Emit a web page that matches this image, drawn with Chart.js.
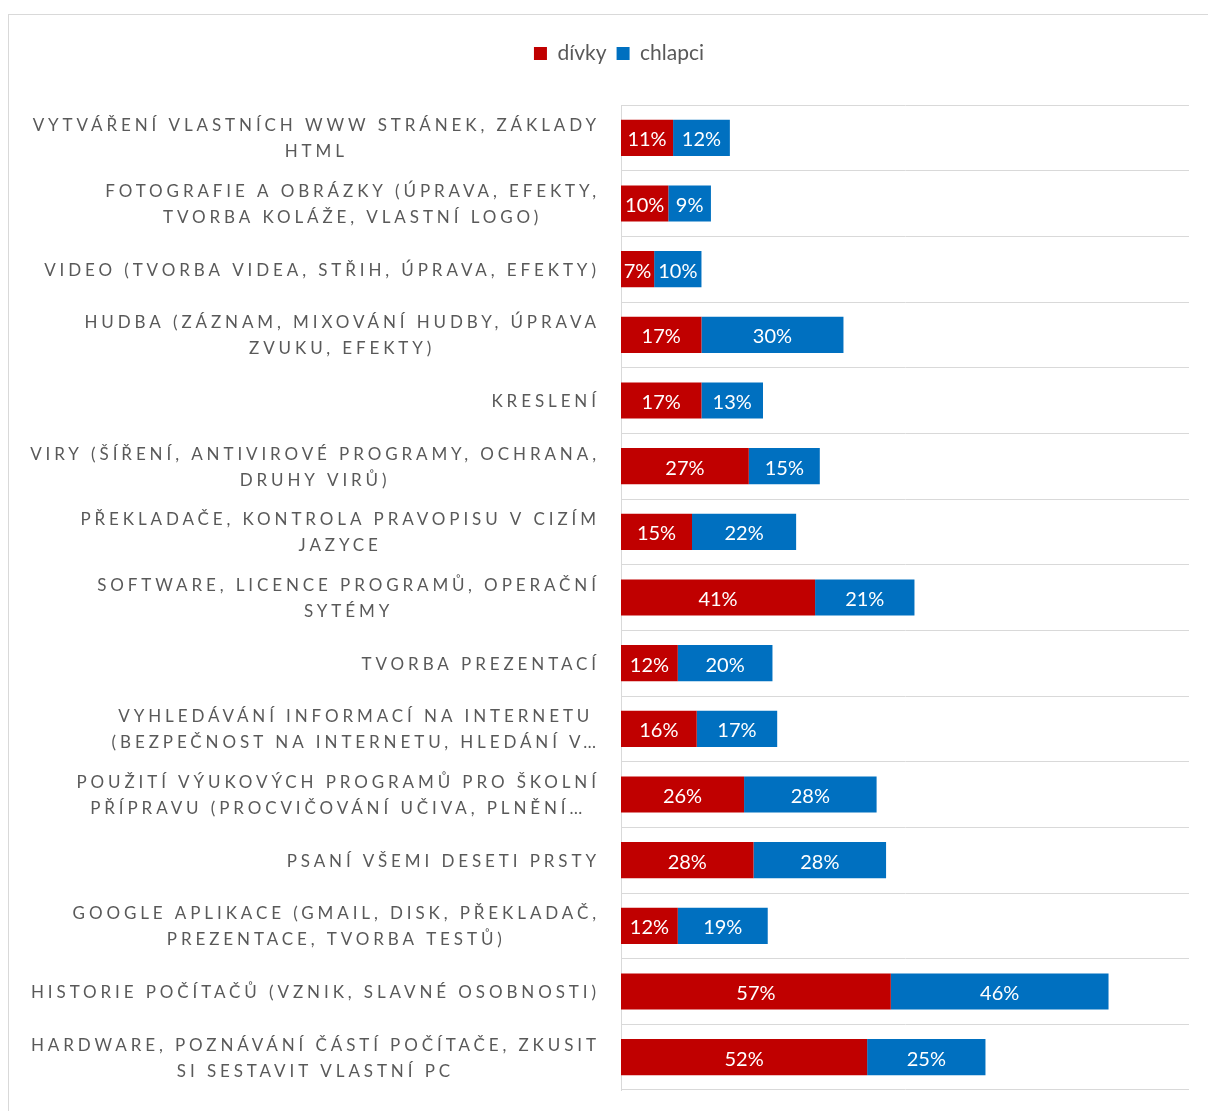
<!DOCTYPE html>
<html lang="cs">
<head>
<meta charset="utf-8">
<title>Témata – dívky a chlapci</title>
<script src="https://cdn.jsdelivr.net/npm/chart.js@4.4.1/dist/chart.umd.min.js"></script>
<style>
  body { margin: 0; background: #fff; overflow: hidden; }
  #frame {
    position: absolute; left: 8px; top: 14px;
    width: 1220px; height: 1096px;
    border: 1px solid #d9d9d9;
  }
  #frame canvas { display: block; }
</style>
</head>
<body>
<div id="frame"><canvas id="myChart"></canvas></div>
<script>
// topics, one entry per row (lines as they are wrapped on the axis)
var topics = [
  ['VYTVÁŘENÍ VLASTNÍCH WWW STRÁNEK, ZÁKLADY', 'HTML'],
  ['FOTOGRAFIE A OBRÁZKY (ÚPRAVA, EFEKTY,', 'TVORBA KOLÁŽE, VLASTNÍ LOGO)'],
  ['VIDEO (TVORBA VIDEA, STŘIH, ÚPRAVA, EFEKTY)'],
  ['HUDBA (ZÁZNAM, MIXOVÁNÍ HUDBY, ÚPRAVA', 'ZVUKU, EFEKTY)'],
  ['KRESLENÍ'],
  ['VIRY (ŠÍŘENÍ, ANTIVIROVÉ PROGRAMY, OCHRANA,', 'DRUHY VIRŮ)'],
  ['PŘEKLADAČE, KONTROLA PRAVOPISU V CIZÍM', 'JAZYCE'],
  ['SOFTWARE, LICENCE PROGRAMŮ, OPERAČNÍ', 'SYTÉMY'],
  ['TVORBA PREZENTACÍ'],
  ['VYHLEDÁVÁNÍ INFORMACÍ NA INTERNETU', '(BEZPEČNOST NA INTERNETU, HLEDÁNÍ V…'],
  ['POUŽITÍ VÝUKOVÝCH PROGRAMŮ PRO ŠKOLNÍ', 'PŘÍPRAVU (PROCVIČOVÁNÍ UČIVA, PLNĚNÍ…'],
  ['PSANÍ VŠEMI DESETI PRSTY'],
  ['GOOGLE APLIKACE (GMAIL, DISK, PŘEKLADAČ,', 'PREZENTACE, TVORBA TESTŮ)'],
  ['HISTORIE POČÍTAČŮ (VZNIK, SLAVNÉ OSOBNOSTI)'],
  ['HARDWARE, POZNÁVÁNÍ ČÁSTÍ POČÍTAČE, ZKUSIT', 'SI SESTAVIT VLASTNÍ PC']
];

// percentages
var divky   = [11, 10, 7, 17, 17, 27, 15, 41, 12, 16, 26, 28, 12, 57, 52];
var chlapci = [12, 9, 10, 30, 13, 15, 22, 21, 20, 17, 28, 28, 19, 46, 25];

var seriesNames = ['dívky', 'chlapci'];
var RED = '#C00000';
var BLUE = '#0070C0';
var GREY = '#595959';
var LINE = '#d9d9d9';

// percent values written in the middle of each bar piece
var valueLabels = {
  id: 'valueLabels',
  afterDatasetsDraw: function(chart) {
    var ctx = chart.ctx;
    ctx.save();
    ctx.font = '20px Lato, sans-serif';
    ctx.fillStyle = '#ffffff';
    ctx.textAlign = 'center';
    ctx.textBaseline = 'middle';
    chart.data.datasets.forEach(function(ds, i) {
      var meta = chart.getDatasetMeta(i);
      meta.data.forEach(function(bar, j) {
        var x = (bar.x + bar.base) / 2;
        ctx.fillText(ds.data[j] + '%', x, bar.y + 2);
      });
    });
    ctx.restore();
  }
};

// spaced-out category names, right aligned block, lines centred in the block
var topicLabels = {
  id: 'topicLabels',
  afterDraw: function(chart) {
    var ctx = chart.ctx;
    var yScale = chart.scales.y;
    var spacing = 3.9;
    var right = chart.chartArea.left - 25;
    var lineH = 26;
    ctx.save();
    ctx.font = '17px Lato, sans-serif';
    ctx.fillStyle = GREY;
    ctx.textAlign = 'left';
    ctx.textBaseline = 'middle';
    if ('letterSpacing' in ctx) ctx.letterSpacing = spacing + 'px';
    topics.forEach(function(lines, i) {
      var cy = yScale.getPixelForValue(i) + 1;
      var widths = lines.map(function(t) { return ctx.measureText(t).width - spacing; });
      var blockW = Math.max.apply(null, widths);
      var center = right - blockW / 2;
      var top = cy - (lines.length - 1) * lineH / 2;
      lines.forEach(function(t, k) {
        ctx.fillText(t, center - widths[k] / 2, top + k * lineH);
      });
    });
    ctx.restore();
  }
};

var ctx = document.getElementById('myChart').getContext('2d');

new Chart(ctx, {
  type: 'bar',
  data: {
    labels: topics.map(function(t) { return t.join(' '); }),
    datasets: [{
      label: seriesNames[0],
      data: divky,
      backgroundColor: RED,
      borderWidth: 0,
      categoryPercentage: 1,
      barPercentage: 0.55
    }, {
      label: seriesNames[1],
      data: chlapci,
      backgroundColor: BLUE,
      borderWidth: 0,
      categoryPercentage: 1,
      barPercentage: 0.55
    }]
  },
  options: {
    indexAxis: 'y',
    responsive: true,
    maintainAspectRatio: false,
    animation: false,
    layout: { padding: { top: 18, right: 0, bottom: 21, left: 0 } },
    plugins: {
      legend: {
        position: 'top',
        labels: {
          boxWidth: 13,
          boxHeight: 13,
          padding: 10,
          color: GREY,
          font: { family: 'Lato, sans-serif', size: 21 }
        }
      },
      tooltip: { enabled: false }
    },
    scales: {
      x: {
        position: 'top',
        stacked: true,
        min: 0,
        max: 120,
        ticks: { display: false },
        grid: { display: false },
        border: { display: false },
        afterFit: function(scale) { scale.height = 31; }
      },
      y: {
        stacked: true,
        ticks: { display: false },
        grid: { color: LINE, lineWidth: 1, offset: true, drawTicks: false },
        border: { color: LINE, width: 1 },
        afterFit: function(scale) { scale.width = 612; }
      },
      // empty strip on the right so the legend stays centred on the whole frame
      gap: {
        type: 'linear',
        axis: 'y',
        position: 'right',
        ticks: { display: false },
        grid: { display: false },
        border: { display: false },
        afterFit: function(scale) { scale.width = 40; }
      }
    }
  },
  plugins: [valueLabels, topicLabels]
});
</script>
</body>
</html>
